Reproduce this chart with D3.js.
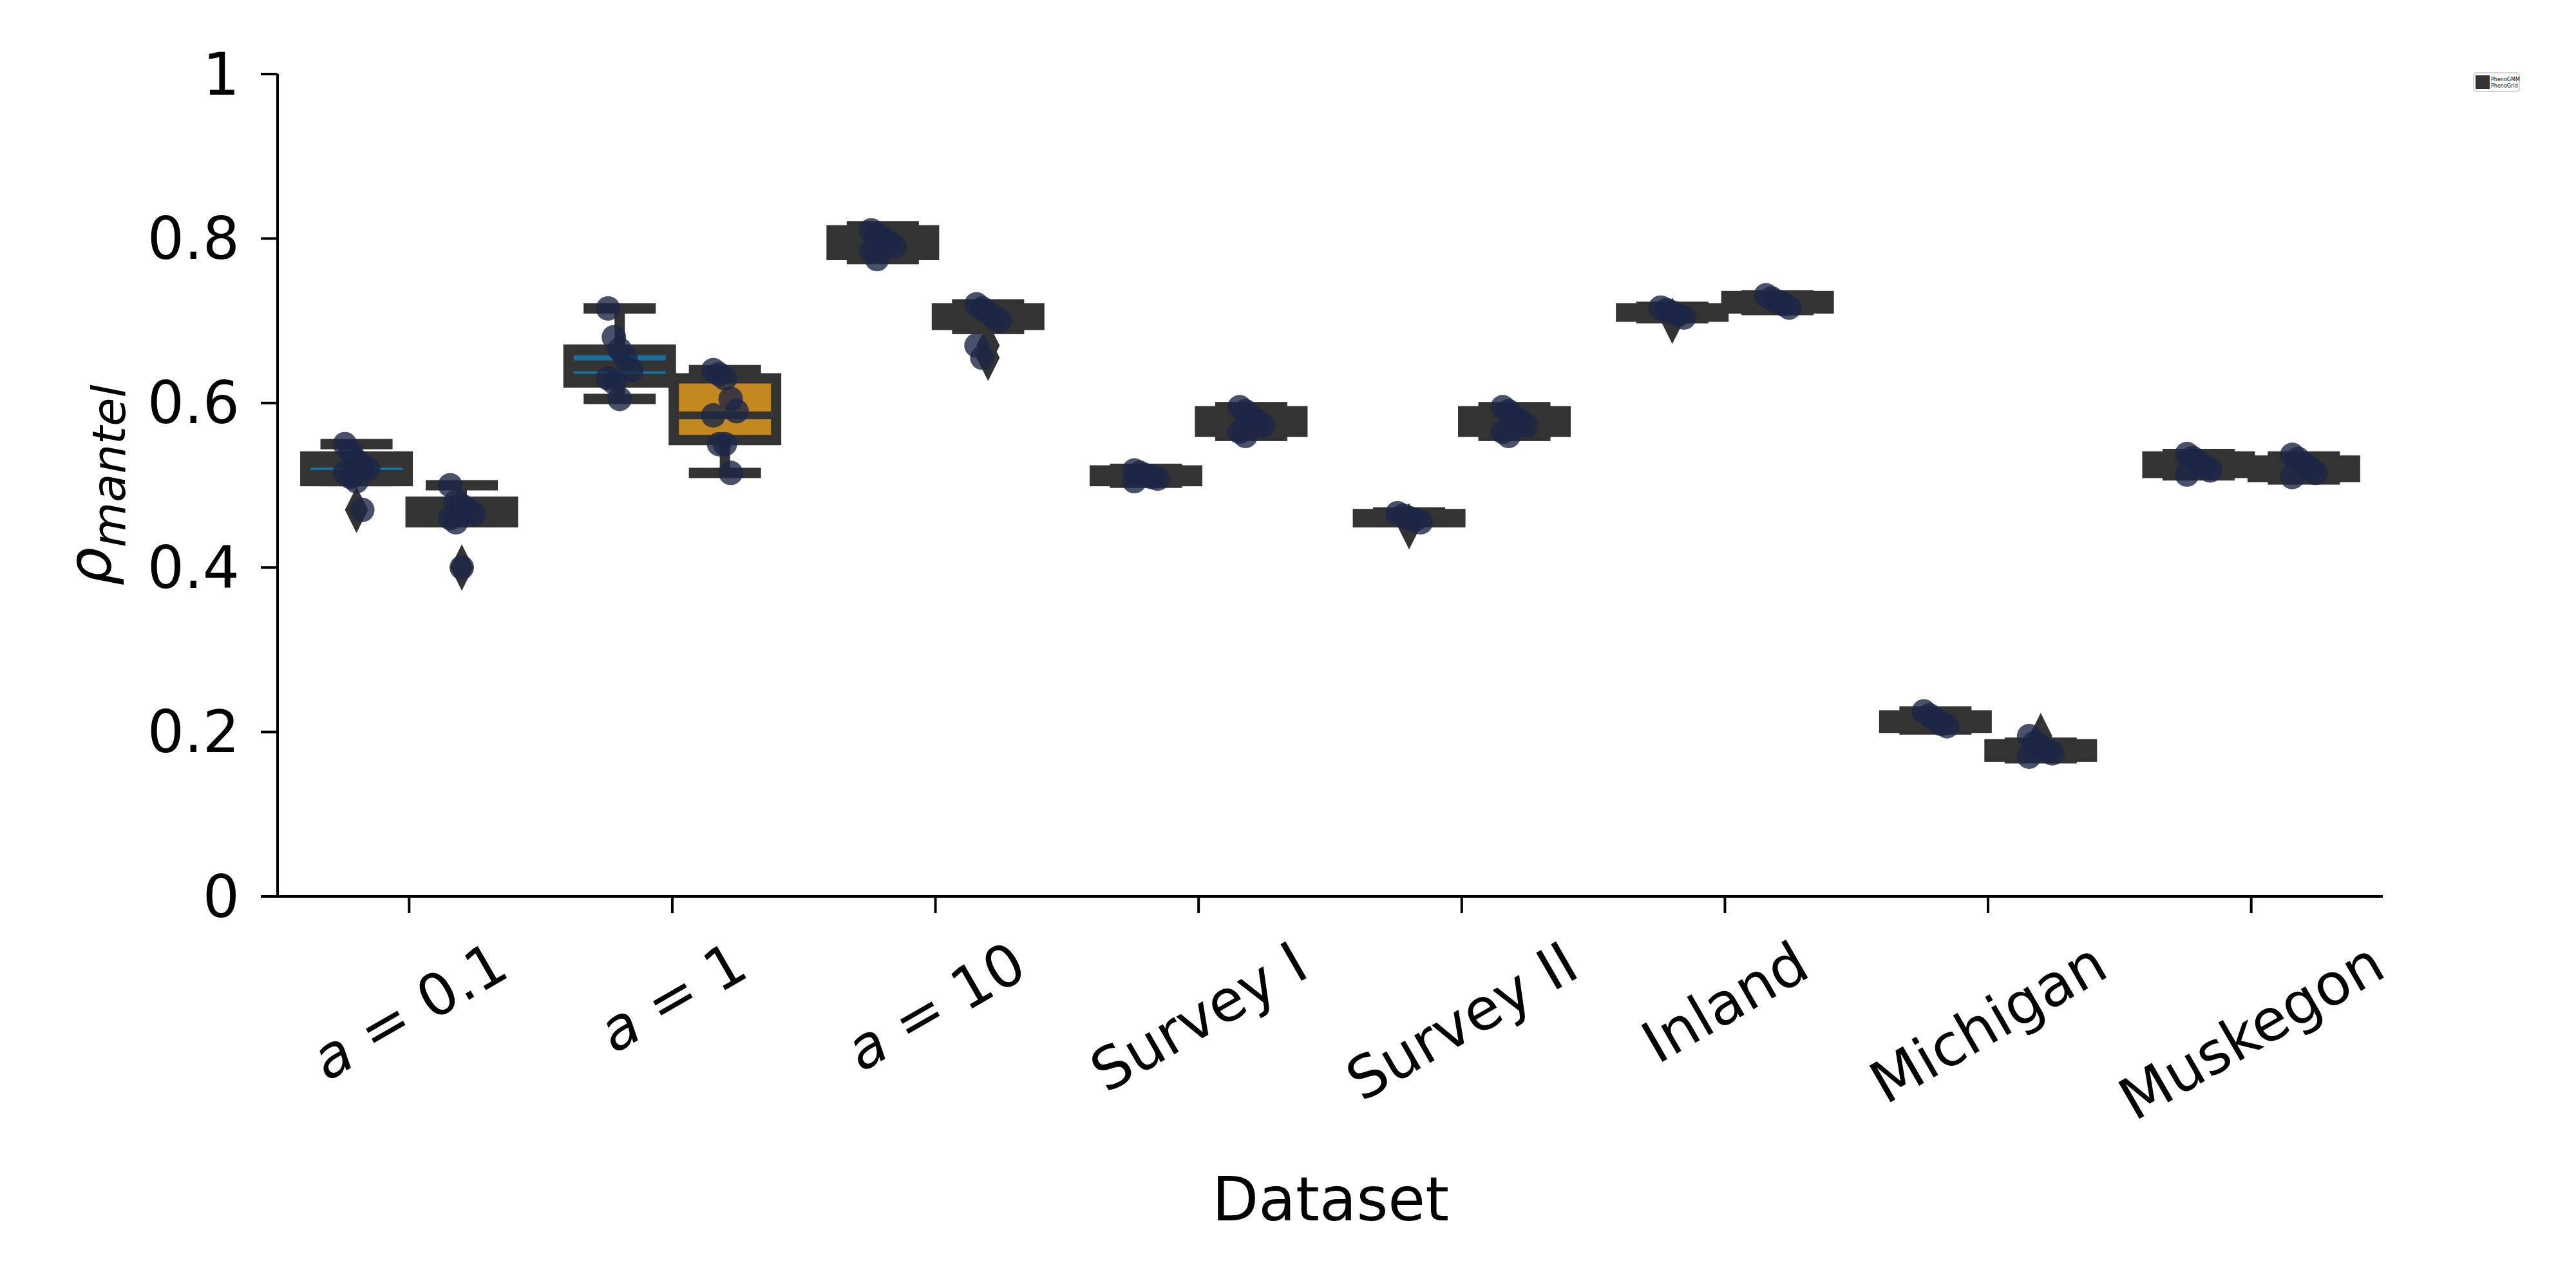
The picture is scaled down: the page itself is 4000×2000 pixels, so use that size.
<!DOCTYPE html>
<html>
<head>
<style>
  body { margin: 0; background: white; }
  text { font-family: "DejaVu Sans", sans-serif; fill: black; }
</style>
</head>
<body>
<svg id="chart" width="4000" height="2000"></svg>
<script src="https://cdn.jsdelivr.net/npm/d3@7"></script>
<script>
var categories = ['a=0.1', 'a=1', 'a=10', 'Survey I', 'Survey II', 'Inland', 'Michigan', 'Muskegon'];
var methods = ['PhenoGMM', 'PhenoGrid'];

// [q1, median, q3, whisker low, whisker high] per category, per method
var boxGMM = [
  [0.505, 0.52, 0.535, 0.505, 0.55],
  [0.625, 0.655, 0.665, 0.605, 0.715],
  [0.78, 0.80, 0.81, 0.775, 0.815],
  [0.505, 0.51, 0.518, 0.503, 0.52],
  [0.455, 0.46, 0.465, 0.455, 0.467],
  [0.705, 0.71, 0.715, 0.703, 0.717],
  [0.205, 0.212, 0.22, 0.203, 0.225],
  [0.515, 0.525, 0.535, 0.512, 0.538]
];
var boxGrid = [
  [0.455, 0.47, 0.48, 0.455, 0.50],
  [0.555, 0.585, 0.63, 0.515, 0.64],
  [0.695, 0.705, 0.715, 0.69, 0.72],
  [0.565, 0.578, 0.59, 0.56, 0.595],
  [0.565, 0.578, 0.59, 0.56, 0.595],
  [0.715, 0.722, 0.73, 0.713, 0.731],
  [0.17, 0.178, 0.185, 0.168, 0.187],
  [0.51, 0.52, 0.53, 0.507, 0.535]
];
var outGMM = [[0.47], [], [], [], [0.45], [0.70], [], []];
var outGrid = [[0.40], [], [0.67, 0.655], [], [], [], [0.195], []];
var ptsGMM = [
  [0.55, 0.54, 0.53, 0.525, 0.52, 0.515, 0.51, 0.505, 0.47],
  [0.715, 0.68, 0.665, 0.655, 0.64, 0.63, 0.625, 0.605],
  [0.81, 0.805, 0.80, 0.795, 0.79, 0.785, 0.775],
  [0.518, 0.515, 0.512, 0.51, 0.508, 0.505],
  [0.466, 0.463, 0.46, 0.458, 0.455],
  [0.716, 0.713, 0.71, 0.707, 0.704],
  [0.225, 0.22, 0.215, 0.21, 0.207],
  [0.538, 0.533, 0.528, 0.523, 0.518, 0.513]
];
var ptsGrid = [
  [0.50, 0.48, 0.475, 0.47, 0.465, 0.46, 0.455, 0.40],
  [0.64, 0.635, 0.63, 0.605, 0.59, 0.585, 0.55, 0.55, 0.515],
  [0.72, 0.715, 0.71, 0.705, 0.70, 0.67, 0.655],
  [0.595, 0.59, 0.583, 0.578, 0.572, 0.565, 0.56],
  [0.595, 0.59, 0.583, 0.578, 0.572, 0.565, 0.56],
  [0.731, 0.727, 0.723, 0.72, 0.716],
  [0.195, 0.187, 0.182, 0.178, 0.174, 0.17],
  [0.537, 0.532, 0.526, 0.52, 0.515, 0.51]
];
var yTicks = [0, 0.2, 0.4, 0.6, 0.8, 1];

var svg = d3.select('#chart');
var x = d3.scaleBand().domain(categories).range([431, 3700]);
var y = d3.scaleLinear().domain([0, 1]).range([1392, 115]);
var off = x.bandwidth() * 0.2;
var boxW = 175, capW = 112, dark = '#333333';

// axes
svg.append('line').attr('x1', 431).attr('x2', 431).attr('y1', y(1)).attr('y2', y(0))
  .attr('stroke', 'black').attr('stroke-width', 4);
svg.append('line').attr('x1', 429).attr('x2', 3700).attr('y1', y(0)).attr('y2', y(0))
  .attr('stroke', 'black').attr('stroke-width', 4);
yTicks.forEach(function(t) {
  svg.append('line').attr('x1', 405).attr('x2', 431).attr('y1', y(t)).attr('y2', y(t))
    .attr('stroke', 'black').attr('stroke-width', 4);
  svg.append('text').attr('x', 372).attr('y', y(t)).attr('dy', '0.35em')
    .attr('text-anchor', 'end').attr('font-size', 90).text(t === 0 || t === 1 ? t : t.toFixed(1));
});
categories.forEach(function(c) {
  var cx = x(c) + x.bandwidth() / 2;
  svg.append('line').attr('x1', cx).attr('x2', cx).attr('y1', y(0)).attr('y2', y(0) + 26)
    .attr('stroke', 'black').attr('stroke-width', 4);
  var t = svg.append('text').attr('font-size', 90).attr('text-anchor', 'middle').attr('dy', '0.35em');
  if (c.indexOf('a=') === 0) {
    t.append('tspan').attr('font-style', 'italic').text('a');
    t.append('tspan').text(' = ' + c.slice(2));
  } else {
    t.text(c);
  }
  var len = t.node().getComputedTextLength();
  var h = len * 0.5 + 90 * 0.866;
  t.attr('transform', 'translate(' + cx + ',' + (1448 + h / 2) + ') rotate(-30)');
});
svg.append('text').attr('x', 2066).attr('y', 1895).attr('text-anchor', 'middle')
  .attr('font-size', 94).text('Dataset');
var yl = svg.append('text').attr('transform', 'translate(172,' + y(0.5) + ') rotate(-90)')
  .attr('text-anchor', 'middle').attr('font-size', 94);
yl.append('tspan').attr('font-style', 'italic').text('ρ');
yl.append('tspan').attr('font-style', 'italic').attr('font-size', 72).attr('dy', 22).text('mantel');

function drawBoxes(boxes, outs, pts, side, mi) {
  boxes.forEach(function(b, i) {
    var cx = x(categories[i]) + x.bandwidth() / 2 + side * off;
    var g = svg.append('g');
    // whisker
    g.append('line').attr('x1', cx).attr('x2', cx).attr('y1', y(b[3])).attr('y2', y(b[4]))
      .attr('stroke', dark).attr('stroke-width', 16);
    [b[3], b[4]].forEach(function(v) {
      g.append('rect').attr('x', cx - capW / 2).attr('y', y(v) - 8).attr('width', capW).attr('height', 16)
        .attr('fill', dark);
    });
    g.append('rect').attr('x', cx - boxW / 2).attr('y', y(b[2]) - 8).attr('width', boxW)
      .attr('height', y(b[0]) - y(b[2]) + 16).attr('fill', dark);
    if (i === 1 && mi === 1) {
      g.append('rect').attr('x', cx - boxW / 2 + 16).attr('y', y(b[2]) + 8).attr('width', boxW - 32)
        .attr('height', y(b[0]) - y(b[2]) - 16).attr('fill', '#c48820');
      g.append('rect').attr('x', cx - boxW / 2 + 16).attr('y', y(b[1]) - 6).attr('width', boxW - 32)
        .attr('height', 12).attr('fill', dark);
    }
    if (i === 1 && mi === 0) {
      g.append('rect').attr('x', cx - boxW / 2 + 16).attr('y', y(b[1]) - 4).attr('width', boxW - 32)
        .attr('height', 8).attr('fill', '#1a6fa0');
      g.append('rect').attr('x', cx - boxW / 2 + 16).attr('y', y(0.637) - 2).attr('width', boxW - 32)
        .attr('height', 4).attr('fill', '#1a6fa0');
    }
    if (i === 0 && mi === 0) {
      g.append('rect').attr('x', cx - boxW / 2 + 16).attr('y', y(b[1]) - 2).attr('width', boxW - 32)
        .attr('height', 4).attr('fill', '#1a6fa0');
    }
    outs[i].forEach(function(v) {
      g.append('path').attr('transform', 'translate(' + cx + ',' + y(v) + ')')
        .attr('d', 'M0,-36L18,0L0,36L-18,0Z').attr('fill', dark);
    });
    pts[i].forEach(function(v, k) {
      var jx = ((k % 5) - 2) * 9;
      g.append('circle').attr('cx', cx + jx).attr('cy', y(v)).attr('r', 19)
        .attr('fill', '#1b2546').attr('fill-opacity', 0.8);
    });
  });
}
drawBoxes(boxGMM, outGMM, ptsGMM, -1, 0);
drawBoxes(boxGrid, outGrid, ptsGrid, 1, 1);

// tiny legend
var lg = svg.append('g').attr('transform', 'translate(3841,113)');
lg.append('rect').attr('width', 71).attr('height', 29).attr('rx', 4).attr('fill', '#fff')
  .attr('stroke', '#d4d4d4').attr('stroke-width', 2);
lg.append('rect').attr('x', 3).attr('y', 4).attr('width', 22).attr('height', 21).attr('fill', dark);
methods.forEach(function(m, i) {
  lg.append('text').attr('x', 27).attr('y', 13 + i * 10).attr('font-size', 8).text(m);
});
</script>
</body>
</html>
